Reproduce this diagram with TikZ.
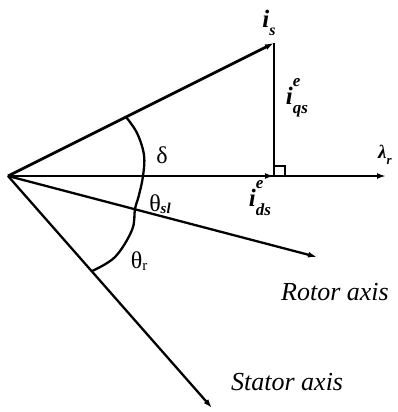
\documentclass[tikz,border=0pt]{standalone}
\usepackage{fontspec}
\setmainfont{Liberation Serif}
\usetikzlibrary{arrows.meta}
\newcommand\supsub[3]{#1\makebox[0pt][l]{\raisebox{0.72em}{\fontsize{17}{17}\selectfont #2}}\raisebox{-0.38em}{\fontsize{17}{17}\selectfont #3}}
\begin{document}
\begin{tikzpicture}[x=1pt,y=-1pt,line width=2.3pt,
  vec/.style={-{Latex[length=9pt,width=6pt]}},
  axislbl/.style={font=\fontsize{26}{26}\selectfont\itshape,inner sep=0pt,anchor=base west},
  greek/.style={font=\fontsize{24}{24}\selectfont,inner sep=0pt},
  ilbl/.style={font=\fontsize{25}{25}\selectfont\bfseries\itshape,inner sep=0pt}]
\useasboundingbox (0,0) rectangle (398,412);
\coordinate (O) at (8,176);
\coordinate (IS) at (274,43);
\coordinate (F) at (274,176);
\coordinate (L) at (386,176);
\coordinate (R) at (317,257);
\coordinate (S) at (212,408);
\draw[vec] (O) -- (L);
\draw[vec] (O) -- (F);
\draw[vec,line width=2.8pt] (O) -- (IS);
\draw (F) -- (IS);
\draw[vec] (O) -- (R);
\draw[vec] (O) -- (S);
\draw[line width=1.2pt] ([yshift=10pt]F) -| ([xshift=11pt]F);
\draw plot[smooth,tension=0.6] coordinates {(126,117) (137,133) (144,155) (143,176) (139,195) (135,209) (132,230) (115,257) (92,271)};
\node[ilbl] (is) at (269,23) {i\raisebox{-0.35em}{\fontsize{16}{16}\selectfont s}};
\node[ilbl] (iqs) at (297,98) {\supsub{i}{e}{qs}};
\node[ilbl] (ids) at (260,198) {\supsub{i}{e}{ds}};
\node[ilbl,font=\fontsize{19}{19}\selectfont\bfseries\itshape,anchor=west] (lam) at (377,155) {λ\raisebox{-0.3em}{\fontsize{13}{13}\selectfont r}};
\node[greek] (delta) at (162,155) {δ};
\node[greek] (thsl) at (160,204) {θ\raisebox{-0.1em}{\fontsize{15}{15}\selectfont\bfseries\itshape sl}};
\node[greek] (thr) at (139,261) {θ\raisebox{-0.1em}{\fontsize{15}{15}\selectfont r}};
\node[axislbl] (rotor) at (280,300) {Rotor axis};
\node[axislbl] (stator) at (230,390) {Stator axis};
\end{tikzpicture}
\end{document}
